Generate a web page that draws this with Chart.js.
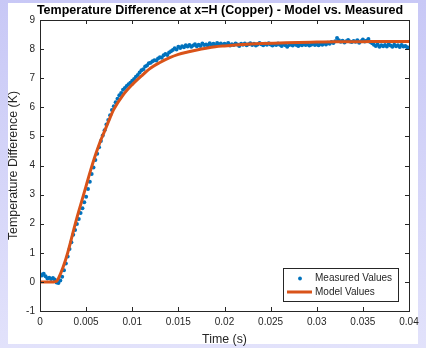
<!DOCTYPE html>
<html>
<head>
<meta charset="utf-8">
<title>Temperature Difference at x=H (Copper)</title>
<script src="https://cdn.jsdelivr.net/npm/chart.js@4.4.1/dist/chart.umd.min.js"></script>
<style>
  html, body { margin: 0; padding: 0; }
  body { width: 426px; height: 348px; overflow: hidden; background: linear-gradient(#c8c8f6, #e2e2fb); }
  canvas { display: block; }
</style>
</head>
<body>
<canvas id="chart" width="426" height="348"></canvas>
<script>
// ---------- data ----------
const TITLE = "Temperature Difference at x=H (Copper) - Model vs. Measured";
const X_LABEL = "Time (s)";
const Y_LABEL = "Temperature Difference (K)";
const SERIES_NAMES = ["Measured Values", "Model Values"];

// measured samples, one every SAMPLE_DT seconds starting at t = 0
const SAMPLE_DT = 0.0002;
const measuredTemp = [
  0.27, 0.22, 0.28, 0.19, 0.12, 0.14, 0.10, 0.13, 0.08, -0.02,
  -0.04, 0.05, 0.18, 0.40, 0.63, 0.87, 1.13, 1.36, 1.62, 1.78,
  1.99, 2.16, 2.37, 2.53, 2.74, 2.93, 3.19, 3.44, 3.71, 3.93,
  4.19, 4.40, 4.63, 4.84, 5.03, 5.21, 5.41, 5.56, 5.73, 5.91,
  6.04, 6.17, 6.29, 6.41, 6.49, 6.60, 6.66, 6.73, 6.79, 6.84,
  6.91, 6.97, 7.05, 7.11, 7.20, 7.27, 7.31, 7.40, 7.44, 7.51,
  7.53, 7.58, 7.62, 7.61, 7.68, 7.72, 7.70, 7.79, 7.83, 7.80,
  7.88, 7.93, 7.97, 8.03, 7.99, 8.08, 8.04, 8.10, 8.06, 8.13,
  8.09, 8.14, 8.08, 8.12, 8.17, 8.10, 8.15, 8.11, 8.19, 8.14,
  8.16, 8.12, 8.20, 8.15, 8.18, 8.13, 8.21, 8.16, 8.19, 8.14,
  8.18, 8.15, 8.21, 8.12, 8.17, 8.14, 8.19, 8.16, 8.11, 8.18,
  8.15, 8.19, 8.13, 8.17, 8.20, 8.14, 8.18, 8.12, 8.16, 8.21,
  8.17, 8.13, 8.18, 8.15, 8.20, 8.16, 8.12, 8.17, 8.14, 8.19,
  8.15, 8.11, 8.17, 8.13, 8.08, 8.14, 8.16, 8.12, 8.18, 8.14,
  8.11, 8.16, 8.13, 8.18, 8.14, 8.17, 8.12, 8.15, 8.19, 8.14,
  8.17, 8.13, 8.18, 8.15, 8.20, 8.16, 8.22, 8.18, 8.24, 8.21,
  8.27, 8.38, 8.30, 8.25, 8.29, 8.23, 8.27, 8.31, 8.26, 8.24,
  8.28, 8.25, 8.30, 8.22, 8.27, 8.33, 8.26, 8.29, 8.35, 8.24,
  8.20, 8.15, 8.11, 8.16, 8.08, 8.13, 8.10, 8.14, 8.09, 8.17,
  8.12, 8.08, 8.15, 8.10, 8.13, 8.07, 8.14, 8.09, 8.11, 8.06,
  8.05
];

const modelTime = [
  0, 0.001, 0.0015, 0.0018, 0.002, 0.0025, 0.003, 0.0035, 0.004, 0.0045,
  0.005, 0.0055, 0.006, 0.0065, 0.007, 0.0075, 0.008, 0.009, 0.010, 0.011,
  0.012, 0.013, 0.014, 0.015, 0.016, 0.017, 0.018, 0.019, 0.020, 0.022,
  0.024, 0.026, 0.028, 0.030, 0.032, 0.034, 0.036, 0.038, 0.040
];
const modelTemp = [
  0, 0, 0, 0.02, 0.12, 0.5, 1.0, 1.6, 2.2, 2.75,
  3.3, 3.85, 4.35, 4.8, 5.18, 5.57, 5.93, 6.42, 6.78, 7.08,
  7.35, 7.54, 7.7, 7.82, 7.9, 7.97, 8.03, 8.08, 8.11, 8.16,
  8.19, 8.21, 8.23, 8.24, 8.25, 8.25, 8.26, 8.26, 8.26
];

const X_RANGE = [0, 0.04];
const X_STEP = 0.005;
const Y_RANGE = [-1, 9];
const Y_STEP = 1;

// ---------- styles ----------
const COLORS = {
  measured: "#0072BD",
  model: "#D95319",
  axis: "#262626",
  figure: "#FFFFFF"
};
const FONT = "'Liberation Sans', Arial, Helvetica, sans-serif";

const measuredPoints = measuredTemp.map((v, i) => ({ x: +(i * SAMPLE_DT).toFixed(4), y: v }));
const modelPoints = modelTime.map((t, i) => ({ x: t, y: modelTemp[i] }));

// white figure panel behind the axes, plus the figure title
const figurePanel = {
  id: "figurePanel",
  beforeDraw(chart) {
    const ctx = chart.ctx;
    ctx.save();
    ctx.fillStyle = COLORS.figure;
    ctx.fillRect(8, 3, 410, 341);
    ctx.fillStyle = "#000000";
    ctx.font = "bold 12.5px " + FONT;
    ctx.textAlign = "center";
    ctx.textBaseline = "middle";
    ctx.fillText(TITLE, 220, 10.5);
    ctx.restore();
  }
};

// matlab-like box with inward ticks on all four sides
const axesBox = {
  id: "axesBox",
  afterDatasetsDraw(chart) {
    const { ctx, chartArea: a, scales } = chart;
    const len = 4;
    ctx.save();
    ctx.strokeStyle = COLORS.axis;
    ctx.lineWidth = 1;
    ctx.beginPath();
    scales.x.ticks.forEach((t) => {
      const px = Math.round(scales.x.getPixelForValue(t.value)) + 0.5;
      ctx.moveTo(px, a.bottom); ctx.lineTo(px, a.bottom - len);
      ctx.moveTo(px, a.top); ctx.lineTo(px, a.top + len);
    });
    scales.y.ticks.forEach((t) => {
      const py = Math.round(scales.y.getPixelForValue(t.value)) + 0.5;
      ctx.moveTo(a.left, py); ctx.lineTo(a.left + len, py);
      ctx.moveTo(a.right, py); ctx.lineTo(a.right - len, py);
    });
    ctx.stroke();
    ctx.strokeRect(Math.round(a.left) + 0.5, Math.round(a.top) + 0.5,
      Math.round(a.right - a.left), Math.round(a.bottom - a.top));
    ctx.restore();
  }
};

// legend box in the lower right of the axes
const cornerLegend = {
  id: "cornerLegend",
  afterDraw(chart) {
    const { ctx, chartArea: a } = chart;
    const right = Math.round(a.right) - 11;
    const bottom = Math.round(a.bottom) - 10;
    const w = 115, h = 33;
    const left = right - w, top = bottom - h;
    ctx.save();
    ctx.fillStyle = "#FFFFFF";
    ctx.fillRect(left, top, w, h);
    ctx.strokeStyle = COLORS.axis;
    ctx.lineWidth = 1;
    ctx.strokeRect(left + 0.5, top + 0.5, w, h);

    const row1 = top + 10.5, row2 = top + 24;
    ctx.fillStyle = COLORS.measured;
    ctx.beginPath();
    ctx.arc(left + 17, row1, 1.9, 0, Math.PI * 2);
    ctx.fill();
    ctx.strokeStyle = COLORS.model;
    ctx.lineWidth = 3;
    ctx.beginPath();
    ctx.moveTo(left + 4, row2);
    ctx.lineTo(left + 29, row2);
    ctx.stroke();

    ctx.fillStyle = COLORS.axis;
    ctx.font = "10px " + FONT;
    ctx.textBaseline = "middle";
    ctx.fillText(SERIES_NAMES[0], left + 32, row1);
    ctx.fillText(SERIES_NAMES[1], left + 32, row2);
    ctx.restore();
  }
};

new Chart(document.getElementById("chart"), {
  type: "scatter",
  data: {
    datasets: [
      {
        type: "scatter",
        label: SERIES_NAMES[0],
        data: measuredPoints,
        backgroundColor: COLORS.measured,
        borderWidth: 0,
        pointRadius: 2,
        pointHoverRadius: 2,
        order: 2
      },
      {
        type: "line",
        label: SERIES_NAMES[1],
        data: modelPoints,
        borderColor: COLORS.model,
        borderWidth: 3,
        pointRadius: 0,
        fill: false,
        cubicInterpolationMode: "monotone",
        order: 1
      }
    ]
  },
  options: {
    responsive: false,
    animation: false,
    devicePixelRatio: 1,
    layout: { padding: { left: 0, right: 17, top: 20, bottom: 0 } },
    plugins: {
      legend: { display: false },
      tooltip: { enabled: false },
      title: { display: false }
    },
    scales: {
      x: {
        type: "linear",
        min: X_RANGE[0],
        max: X_RANGE[1],
        afterFit: (s) => { s.height = 37; },
        grid: { display: false, drawTicks: false },
        border: { display: false },
        ticks: {
          stepSize: X_STEP,
          color: COLORS.axis,
          font: { family: FONT, size: 10 },
          padding: 5,
          maxRotation: 0,
          callback: (v) => String(+v.toFixed(3))
        },
        title: {
          display: true,
          text: X_LABEL,
          color: COLORS.axis,
          font: { family: FONT, size: 12.4, lineHeight: 1.2 },
          padding: { top: 0, bottom: 0.5 }
        }
      },
      y: {
        type: "linear",
        min: Y_RANGE[0],
        max: Y_RANGE[1],
        afterFit: (s) => { s.width = 40; },
        grid: { display: false, drawTicks: false },
        border: { display: false },
        ticks: {
          stepSize: Y_STEP,
          color: COLORS.axis,
          font: { family: FONT, size: 10 },
          padding: 5
        },
        title: {
          display: true,
          text: Y_LABEL,
          color: COLORS.axis,
          font: { family: FONT, size: 12.4, lineHeight: 1.2 },
          padding: { top: 6.5, bottom: 0 }
        }
      }
    }
  },
  plugins: [figurePanel, axesBox, cornerLegend]
});
</script>
</body>
</html>
